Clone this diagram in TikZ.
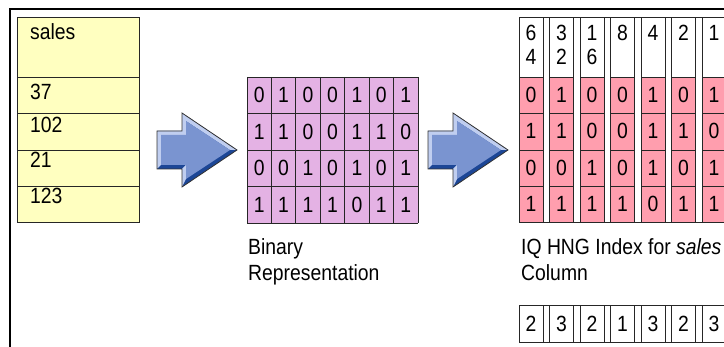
\documentclass[tikz,border=0pt]{standalone}
\usepackage{fontspec}
\setmainfont[FakeStretch=0.88]{Liberation Sans}
\definecolor{salesfill}{RGB}{255,255,192}
\definecolor{binfill}{RGB}{228,178,228}
\definecolor{hngfill}{RGB}{255,158,174}
\definecolor{arrface}{RGB}{122,148,208}
\definecolor{arrlight}{RGB}{192,206,240}
\definecolor{arrdark}{RGB}{28,70,150}
\tikzset{
  digit/.style={font=\fontsize{22}{24}\selectfont, inner sep=0pt},
  lbl/.style={font=\fontsize{22}{24}\selectfont, inner sep=0pt, anchor=base west},
  gridline/.style={draw=black!85, line width=0.8pt},
  framelines/.style={draw=black, line width=2pt},
}
\newcommand{\blarrow}[1]{%
  \begin{scope}[shift={(#1,150)}]
    \fill[arrdark] (0,-19) -- (25,-19) -- (25,-37) -- (80,0) -- (25,37) -- (25,19) -- (0,19) -- cycle;
    \fill[arrlight] (0,19) -- (0,-19) -- (25,-19) -- (25,-37) -- (80,0) -- (73,0) -- (29,-29) -- (29,-15) -- (4,-15) -- (4,15) -- cycle;
    \fill[arrlight] (25,19) -- (25,37) -- (29,29) -- (29,15) -- cycle;
    \fill[arrface] (4,-15) -- (29,-15) -- (29,-29) -- (73,0) -- (29,29) -- (29,15) -- (4,15) -- cycle;
    \draw[black!80, line width=0.8pt, line join=miter] (0,-19) -- (25,-19) -- (25,-37) -- (80,0) -- (25,37) -- (25,19) -- (0,19) -- cycle;
  \end{scope}}
\begin{document}
\begin{tikzpicture}[x=1pt,y=-1pt]
\useasboundingbox (0,0) rectangle (724,347);
\clip (0,0) rectangle (724,347);
% frame
\draw[framelines] (10,350) -- (10,9) -- (730,9);

% sales table
\fill[salesfill] (17,17) rectangle (139,222);
\draw[gridline] (17,17) rectangle (139,222);
\foreach \y in {77,113,150,186} \draw[gridline] (17,\y) -- (139,\y);
\node[lbl] (hdr) at (30,40) {sales};
\node[lbl] (v1) at (30,100) {37};
\node[lbl] (v2) at (30,133) {102};
\node[lbl] (v3) at (30,168) {21};
\node[lbl] (v4) at (30,204) {123};

% arrows
\blarrow{157}
\blarrow{428}

% binary grid
\fill[binfill] (247,77) rectangle (418,223);
\foreach \i in {0,...,7} \draw[gridline] ({247+24.43*\i},77) -- ({247+24.43*\i},223);
\foreach \y in {77,113.5,150,186.5,223} \draw[gridline] (247,\y) -- (418,\y);
\foreach \row [count=\r from 0] in {{0,1,0,0,1,0,1},{1,1,0,0,1,1,0},{0,0,1,0,1,0,1},{1,1,1,1,0,1,1}} {
  \foreach \d [count=\c from 0] in \row {
    \node[digit] (b\r\c) at ({247+24.43*\c+12.2},{77+36.5*\r+18.25}) {\d};
  }
}
\node[lbl] (binl1) at (248,255) {Binary};
\node[lbl] (binl2) at (248,281) {Representation};

% HNG index
\foreach \c in {0,...,6} {
  \fill[hngfill] ({519+30.5*\c},77) rectangle ({519+30.5*\c+24},222);
  \draw[gridline] ({519+30.5*\c},17) rectangle ({519+30.5*\c+24},222);
  \foreach \y in {77,113,150,186} \draw[gridline] ({519+30.5*\c},\y) -- ({519+30.5*\c+24},\y);
}
\draw[gridline] (519,17) -- (730,17);
\draw[gridline] (519,222) -- (730,222);
\foreach \t/\b [count=\c from 0] in {6/4,3/2,1/6,8/,4/,2/,1/} {
  \node[digit] (ht\c) at ({519+30.5*\c+12},33) {\t};
  \node[digit] (hb\c) at ({519+30.5*\c+12},57) {\b};
}
\foreach \row [count=\r from 0] in {{0,1,0,0,1,0,1},{1,1,0,0,1,1,0},{0,0,1,0,1,0,1},{1,1,1,1,0,1,1}} {
  \foreach \d [count=\c from 0] in \row {
    \node[digit] (h\r\c) at ({519+30.5*\c+12},{77+36.3*\r+18.1}) {\d};
  }
}
\node[lbl] (hngl1) at (521,255) {IQ HNG Index for \textit{sales}};
\node[lbl] (hngl2) at (521,281) {Column};

% counts
\foreach \n [count=\c from 0] in {2,3,2,1,3,2,3} {
  \draw[gridline] ({519+30.5*\c},305) rectangle ({519+30.5*\c+24},342);
  \node[digit] (k\c) at ({519+30.5*\c+12},323.5) {\n};
}
\draw[gridline] (519,305) -- (730,305);
\draw[gridline] (519,342) -- (730,342);
\end{tikzpicture}
\end{document}
